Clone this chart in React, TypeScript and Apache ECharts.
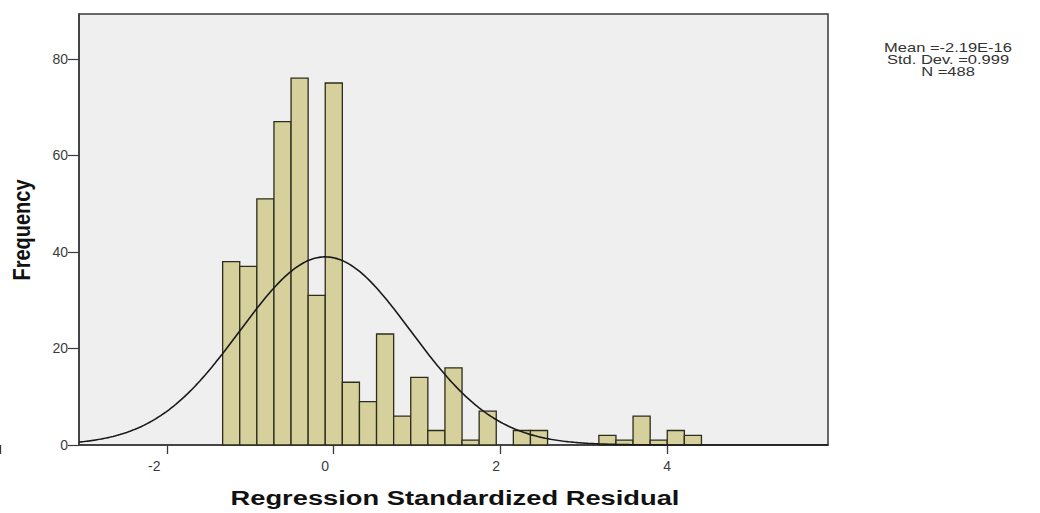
import React, { useEffect, useRef } from "react";
import * as echarts from "echarts";

// Histogram bins: lower edge of the first bin, bin width, and frequency per bin
const firstBinStart = -1.2;
const binWidth = 0.2;
const frequencies = [
  38, 37, 51, 67, 76, 31, 75, 13, 9, 23, 6, 14, 3, 16, 1, 7, 0, 3, 3, 0, 0, 0, 2, 1, 6, 1, 3, 2,
];

// Summary statistics of the residuals
const meanValue = -2.19e-16;
const stdDev = 0.999;
const sampleSize = 488;

// Axis ranges and tick labels
const xRange = [-2.88, 5.88];
const yRange = [0, 89.3];
const xTicks = [-2, 0, 2, 4];
const yTicks = [0, 20, 40, 60, 80];

const FONT = "'Liberation Sans', Arial, sans-serif";
const AXIS_COLOR = "#3a3a3a";

// Plot area geometry
const WIDTH = 1040;
const HEIGHT = 513;
const GRID = { left: 79, right: 212, top: 14, bottom: 68 };

export default function App() {
  const ref = useRef<HTMLDivElement>(null);

  useEffect(() => {
    document.body.style.margin = "0";
    if (!ref.current) return;
    const chart = echarts.init(ref.current, undefined, { renderer: "svg" });

    const bins = frequencies
      .map((f, i) => {
        const lo = +(firstBinStart + i * binWidth).toFixed(4);
        return [lo, +(lo + binWidth).toFixed(4), f];
      })
      .filter((b) => b[2] > 0);

    // Fitted normal density scaled to counts per bin
    const curve: number[][] = [];
    const steps = 440;
    for (let i = 0; i <= steps; i++) {
      const x = xRange[0] + ((xRange[1] - xRange[0]) * i) / steps;
      const z = (x - meanValue) / stdDev;
      const y =
        (sampleSize * binWidth * Math.exp(-0.5 * z * z)) /
        (stdDev * Math.sqrt(2 * Math.PI));
      curve.push([x, y]);
    }

    const statsLines = [
      `Mean =${meanValue.toExponential(2).toUpperCase()}`,
      `Std. Dev. =${stdDev}`,
      `N =${sampleSize}`,
    ];

    // A second, tick-only grid that shares the same x scale as the plot,
    // spanning from the first to the last tick value so ticks start at its min
    const plotWidth = WIDTH - GRID.left - GRID.right;
    const pxPerUnit = plotWidth / (xRange[1] - xRange[0]);
    const tickMin = xTicks[0] - 2;
    const tickMax = xTicks[xTicks.length - 1];
    const tickLeft = GRID.left + (tickMin - xRange[0]) * pxPerUnit;
    const tickRight = WIDTH - (GRID.left + (tickMax - xRange[0]) * pxPerUnit);

    chart.setOption({
      animation: false,
      backgroundColor: "#ffffff",
      grid: [
        {
          ...GRID,
          show: true,
          backgroundColor: "#efefef",
          borderColor: AXIS_COLOR,
          borderWidth: 1.5,
        },
        {
          left: tickLeft,
          right: tickRight,
          top: GRID.top,
          bottom: GRID.bottom,
          show: false,
        },
      ],
      xAxis: [
        {
          type: "value",
          gridIndex: 0,
          min: xRange[0],
          max: xRange[1],
          splitLine: { show: false },
          axisLine: { show: true, onZero: false, lineStyle: { color: AXIS_COLOR, width: 1.5 } },
          axisTick: { show: false },
          axisLabel: {
            customValues: xTicks,
            margin: 14,
            color: "#3c3c3c",
            fontSize: 14,
            fontFamily: FONT,
          },
        },
        {
          type: "value",
          gridIndex: 1,
          min: tickMin,
          max: tickMax,
          interval: 2,
          splitLine: { show: false },
          axisLine: { show: false, onZero: false },
          axisLabel: { show: false },
          axisTick: {
            show: true,
            inside: false,
            length: 9,
            lineStyle: { color: AXIS_COLOR, width: 1.3 },
          },
        },
      ],
      yAxis: [
        {
          type: "value",
          gridIndex: 0,
          min: yRange[0],
          max: yRange[1],
          splitLine: { show: false },
          axisLine: { show: true, onZero: false, lineStyle: { color: AXIS_COLOR, width: 1.5 } },
          axisTick: {
            show: true,
            inside: false,
            customValues: yTicks,
            length: 11,
            lineStyle: { color: AXIS_COLOR, width: 1.2 },
          },
          axisLabel: {
            customValues: yTicks,
            margin: 11,
            color: "#3c3c3c",
            fontSize: 14,
            fontFamily: FONT,
          },
        },
        {
          type: "value",
          gridIndex: 1,
          min: yRange[0],
          max: yRange[1],
          show: false,
        },
      ],
      series: [
        {
          type: "custom",
          xAxisIndex: 0,
          yAxisIndex: 0,
          data: bins,
          encode: { x: [0, 1], y: 2 },
          renderItem: (_params: any, api: any) => {
            const p0 = api.coord([api.value(0), api.value(2)]);
            const p1 = api.coord([api.value(1), 0]);
            return {
              type: "rect",
              shape: { x: p0[0], y: p0[1], width: p1[0] - p0[0], height: p1[1] - p0[1] },
              style: { fill: "#d5d09c", stroke: "#2e2c1c", lineWidth: 1.3 },
            };
          },
          z: 2,
        },
        {
          type: "line",
          xAxisIndex: 0,
          yAxisIndex: 0,
          data: curve,
          showSymbol: false,
          smooth: false,
          lineStyle: { color: "#1a1a1a", width: 1.6 },
          z: 3,
        },
      ],
      graphic: [
        {
          type: "text",
          x: 22,
          y: 230,
          rotation: Math.PI / 2,
          scaleY: 1.2,
          style: {
            text: "Frequency",
            font: `bold 20px ${FONT}`,
            fill: "#111111",
            textAlign: "center",
            textVerticalAlign: "middle",
          },
        },
        {
          type: "text",
          x: 455,
          y: 498,
          scaleX: 1.3,
          style: {
            text: "Regression Standardized Residual",
            font: `bold 21px ${FONT}`,
            fill: "#111111",
            textAlign: "center",
            textVerticalAlign: "middle",
          },
        },
        ...statsLines.map((t, i) => ({
          type: "text",
          x: 948,
          y: 47.5 + i * 12,
          scaleX: 1.27,
          style: {
            text: t,
            font: `13px ${FONT}`,
            fill: "#333333",
            textAlign: "center",
            textVerticalAlign: "middle",
          },
        })),
      ],
    });

    return () => chart.dispose();
  }, []);

  return <div ref={ref} style={{ width: WIDTH, height: HEIGHT }} />;
}
